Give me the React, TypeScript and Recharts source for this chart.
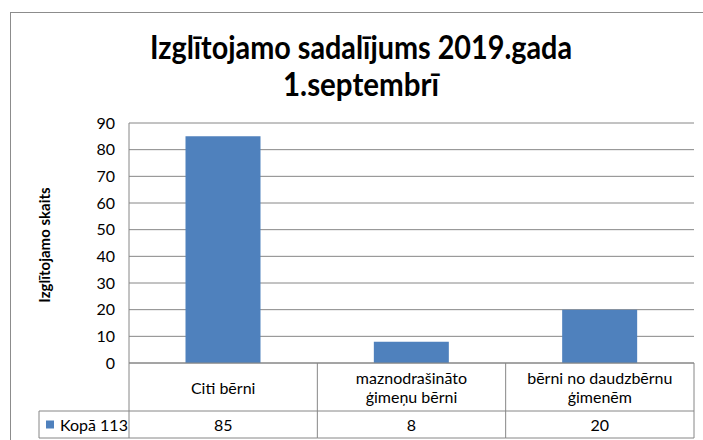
import React from 'react';
import { BarChart, Bar, XAxis, YAxis, CartesianGrid } from 'recharts';

const categories = ['Citi bērni', 'maznodrašināto\nģimeņu bērni', 'bērni no daudzbērnu\nģimenēm'];
const values = [85, 8, 20];
const yTicks = [0, 10, 20, 30, 40, 50, 60, 70, 80, 90];
const seriesName = 'Kopā 113';
const titleLines = ['Izglītojamo sadalījums 2019.gada', '1.septembrī'];
const titleWidths = [422, 156];
const yLabel = 'Izglītojamo skaits';

const data = categories.map((name, i) => ({ name, value: values[i] }));

const FONT = 'Lato, "Open Sans", sans-serif';
const GRID = '#868686';
const BAR = '#4F81BD';

// draws one column of the data table under the plot
const TableTick = (props: any) => {
  const { x, y, payload, index } = props;
  const off = payload.offset || 94;
  const lines = String(payload.value).split('\n');
  const rowH = 48;
  const row2 = 27;
  const left = x - off;
  const right = x + off;
  return (
    <g>
      <line x1={right} y1={y} x2={right} y2={y + rowH + row2} stroke={GRID} />
      <line x1={left} y1={y + rowH} x2={right} y2={y + rowH} stroke={GRID} />
      <line x1={left} y1={y + rowH + row2} x2={right} y2={y + rowH + row2} stroke={GRID} />
      {lines.map((l, i) => (
        <text
          key={i}
          x={x}
          y={y + rowH / 2 + (i - (lines.length - 1) / 2) * 19}
          textAnchor="middle"
          dominantBaseline="central"
          fontSize={16}
          fontFamily={FONT}
          fill="#000"
        >
          {l}
        </text>
      ))}
      <text
        x={x}
        y={y + rowH + row2 / 2}
        textAnchor="middle"
        dominantBaseline="central"
        fontSize={16}
        fontFamily={FONT}
        fill="#000"
      >
        {values[index]}
      </text>
      {index === 0 && (
        <g>
          <line x1={left} y1={y} x2={left} y2={y + rowH + row2} stroke={GRID} />
          <line x1={39} y1={y + rowH} x2={left} y2={y + rowH} stroke={GRID} />
          <line x1={39} y1={y + rowH + row2} x2={left} y2={y + rowH + row2} stroke={GRID} />
          <line x1={39} y1={y + rowH} x2={39} y2={y + rowH + row2} stroke={GRID} />
          <rect x={46} y={y + rowH + row2 / 2 - 4} width={8} height={8} fill={BAR} />
          <text
            x={60}
            y={y + rowH + row2 / 2}
            dominantBaseline="central"
            fontSize={16}
            fontFamily={FONT}
            fill="#000"
          >
            {seriesName}
          </text>
        </g>
      )}
    </g>
  );
};

export default function App() {
  return (
    <div style={{ position: 'absolute', left: 0, top: 0, width: 703, height: 440, background: '#fff' }}>
      <svg width={703} height={440} style={{ position: 'absolute', left: 0, top: 0 }}>
        <rect x={10.5} y={12.5} width={700} height={440} fill="#fff" stroke="#8c8c8c" />
        {titleLines.map((t, i) => (
          <text
            key={i}
            x={361}
            y={46 + i * 37}
            textAnchor="middle"
            dominantBaseline="central"
            fontSize={32}
            fontWeight="bold"
            fontFamily={FONT}
            textLength={titleWidths[i]}
            lengthAdjust="spacingAndGlyphs"
            fill="#000"
          >
            {t}
          </text>
        ))}
        <text
          x={44}
          y={245}
          transform="rotate(-90 44 245)"
          textAnchor="middle"
          dominantBaseline="central"
          fontSize={15}
          fontWeight="bold"
          fontFamily={FONT}
          fill="#000"
        >
          {yLabel}
        </text>
      </svg>
      <div style={{ position: 'absolute', left: 0, top: 0 }}>
        <BarChart
          width={703}
          height={440}
          data={data}
          margin={{ top: 123, right: 9, bottom: 2, left: 69 }}
          barCategoryGap="30%"
        >
          <CartesianGrid vertical={false} stroke={GRID} />
          <YAxis
            width={60}
            domain={[0, 90]}
            ticks={yTicks}
            interval={0}
            axisLine={{ stroke: GRID }}
            tickLine={false}
            tickMargin={8}
            tick={{ fontSize: 16, fontFamily: FONT, fill: '#000' }}
          />
          <XAxis
            dataKey="name"
            height={75}
            interval={0}
            axisLine={{ stroke: GRID }}
            tickLine={false}
            tickSize={0}
            tickMargin={0}
            tick={<TableTick />}
          />
          <Bar dataKey="value" fill={BAR} isAnimationActive={false} />
        </BarChart>
      </div>
    </div>
  );
}
